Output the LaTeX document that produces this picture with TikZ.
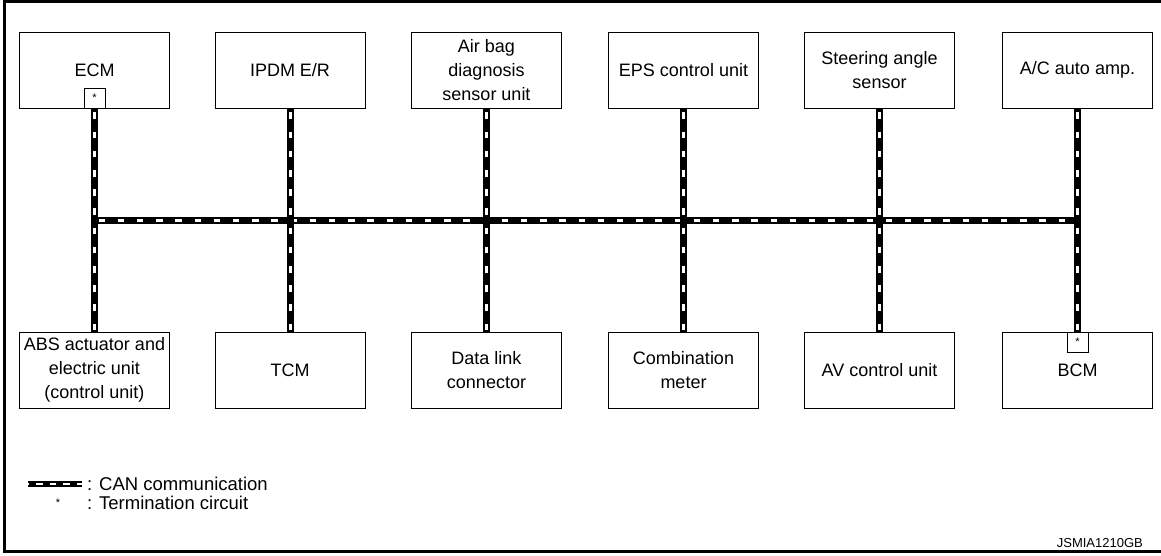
\documentclass[tikz,border=0pt]{standalone}
\usepackage{fontspec}
\setmainfont{Liberation Sans}
\begin{document}
\begin{tikzpicture}[x=1pt,y=-1pt,
  unit/.style={draw, line width=0.9pt, minimum width=150pt, minimum height=76pt,
    inner sep=0pt, align=center, font=\fontsize{18}{24}\selectfont},
  termbox/.style={draw, fill=white, line width=0.9pt, minimum width=21pt, minimum height=20pt,
    inner sep=0pt, font=\fontsize{11}{11}\selectfont},
  can/.style={line width=7pt, black,
    postaction={draw, white, line width=3pt, dash pattern=on 6.5pt off 12.7pt, dash phase=15.2pt}},
  canlegend/.style={line width=6pt, black,
    postaction={draw, white, line width=2.6pt, dash pattern=on 6.5pt off 7pt, dash phase=-8pt}},
  legtext/.style={anchor=west, inner sep=0pt, font=\fontsize{18.5}{20}\selectfont}
]
\useasboundingbox (0,0) rectangle (1161,556);

% outer frame
\draw[line width=3pt] (1161,1.5) -- (4.5,1.5) -- (4.5,551.5) -- (1161,551.5);

% upper row of control units
\node[unit] (ecm)   at (94.5,70)  {ECM};
\node[unit] (ipdm)  at (290,70)   {IPDM E/R};
\node[unit] (abag)  at (486.5,70) {Air bag\\diagnosis\\sensor unit};
\node[unit] (eps)   at (683.5,70) {EPS control unit};
\node[unit] (steer) at (879.5,70) {Steering angle\\sensor};
\node[unit] (acamp) at (1077.5,70) {A/C auto amp.};

% lower row of control units
\node[unit] (abs)   at (94.5,370)  {ABS actuator and\\electric unit\\(control unit)};
\node[unit] (tcm)   at (290,370)   {TCM};
\node[unit] (dlc)   at (486.5,370) {Data link\\connector};
\node[unit] (meter) at (683.5,370) {Combination\\meter};
\node[unit] (av)    at (879.5,370) {AV control unit};
\node[unit] (bcm)   at (1077.5,370) {BCM};

% termination circuits
\node[termbox, anchor=south] (ecmt) at (ecm.south) {\raisebox{-2pt}{*}};
\node[termbox, anchor=north] (bcmt) at (bcm.north) {\raisebox{-2pt}{*}};

% CAN bus trunk
\coordinate (busL) at (94.5,220);
\coordinate (busR) at (1077.5,220);
\draw[can] (busL) -- (busR);

% CAN branches
\draw[can] (ecmt.south)  -- (abs.north);
\draw[can] (ipdm.south)  -- (tcm.north);
\draw[can] (abag.south)  -- (dlc.north);
\draw[can] (eps.south)   -- (meter.north);
\draw[can] (steer.south) -- (av.north);
\draw[can] (acamp.south) -- (bcmt.north);

% legend
\coordinate (lgA) at (28,484);
\coordinate (lgB) at (82,484);
\draw[canlegend] (lgA) -- (lgB);
\node[legtext] (lgcan) at (87,484) {: CAN communication};
\node[inner sep=0pt, font=\fontsize{11}{11}\selectfont] (lgstar) at (58,503) {*};
\node[legtext] (lgterm) at (87,503) {: Termination circuit};

% drawing number
\node[anchor=east, inner sep=0pt, font=\fontsize{13}{13}\selectfont] (code) at (1143,543) {JSMIA1210GB};
\end{tikzpicture}
\end{document}
